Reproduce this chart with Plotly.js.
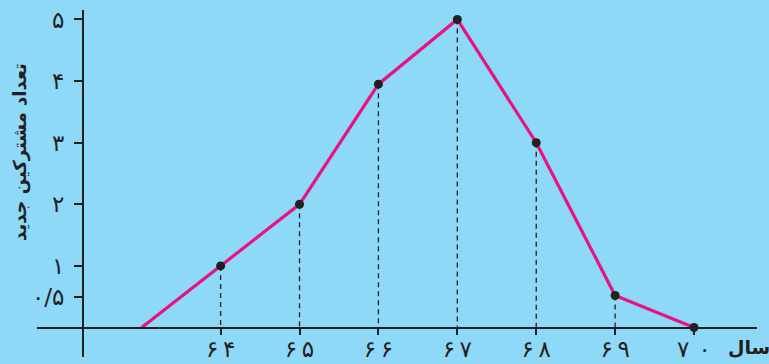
<!DOCTYPE html>
<html><head><meta charset="utf-8">
<script src="https://cdn.plot.ly/plotly-3.0.1.min.js"></script>
<style>html,body{margin:0;padding:0;background:#8ed8f8;}#chart{width:769px;height:364px;}</style>
</head><body><div id="chart"></div>
<script>
const years = [63, 64, 65, 66, 67, 68, 69, 70];
const subscribers = [0, 1, 2, 3.95, 5, 3, 0.52, 0];
const xTickVals = [64, 65, 66, 67, 68, 69, 70];
const xTickText = ['۶\u2009۴', '۶\u2009۵', '۶\u2009۶', '۶\u2009۷', '۶\u2009۸', '۶\u2009۹', '۷\u2009\u2009۰'];
const yTickVals = [0.5, 1, 2, 3, 4, 5];
const yTickText = ['۰/۵', '۱', '۲', '۳', '۴', '۵'];
const yTitle = 'تعداد مشترکین جدید';
const xTitle = 'سال';

const dark = '#231f20';
const gx = [], gy = [];
years.forEach((yr, i) => {
  if (xTickVals.includes(yr) && subscribers[i] > 0) {
    gx.push(yr, yr, null); gy.push(subscribers[i], 0, null);
  }
});
const mx = [], my = [];
years.forEach((yr, i) => { if (xTickVals.includes(yr)) { mx.push(yr); my.push(subscribers[i]); } });

const traces = [
  {x: gx, y: gy, mode: 'lines', line: {color: dark, width: 1.3, dash: '5px,4px'}, hoverinfo: 'skip'},
  {x: years, y: subscribers, mode: 'lines', line: {color: '#e8137f', width: 3.2}},
  {x: mx, y: my, mode: 'markers', marker: {color: dark, size: 9}}
];

const L = 37, R = 757, T = 10, B = 357;
const px = v => (v - L) / (R - L);
const py = v => (B - v) / (B - T);
const layout = {
  width: 769, height: 364,
  paper_bgcolor: '#8ed8f8', plot_bgcolor: '#8ed8f8',
  showlegend: false,
  margin: {l: L, r: 769 - R, t: T, b: 364 - B, pad: 0},
  font: {family: 'DejaVu Sans', color: dark},
  xaxis: {
    range: [61.673, 70.798], showgrid: false, zeroline: false,
    anchor: 'free', position: py(327.5),
    showline: true, linecolor: dark, linewidth: 2.2,
    ticks: 'outside', ticklen: 6, tickwidth: 2, tickcolor: dark,
    tickvals: xTickVals, ticktext: xTickText,
    tickfont: {size: 23, color: dark, family: 'DejaVu Sans'},
    ticklabelstandoff: -5
  },
  yaxis: {
    range: [-0.479, 5.154], showgrid: false, zeroline: false,
    anchor: 'free', position: px(83),
    showline: true, linecolor: dark, linewidth: 2.2,
    ticks: 'outside', ticklen: 8, tickwidth: 2, tickcolor: dark,
    tickvals: yTickVals, ticktext: yTickText,
    tickfont: {size: 23, color: dark, family: 'DejaVu Sans'},
    ticklabelstandoff: 5
  },
  annotations: [
    {text: '<b>' + yTitle + '</b>', xref: 'paper', yref: 'paper',
     x: px(20), y: py(152), xanchor: 'center', yanchor: 'middle',
     textangle: -90, showarrow: false,
     font: {size: 18, color: dark, family: 'DejaVu Sans'}},
    {text: '<b>' + xTitle + '</b>', xref: 'paper', yref: 'paper',
     x: px(772), xanchor: 'right', y: py(347), yanchor: 'middle', showarrow: false,
     font: {size: 19, color: dark, family: 'DejaVu Sans'}}
  ]
};
Plotly.newPlot('chart', traces, layout, {staticPlot: true});
</script></body></html>
